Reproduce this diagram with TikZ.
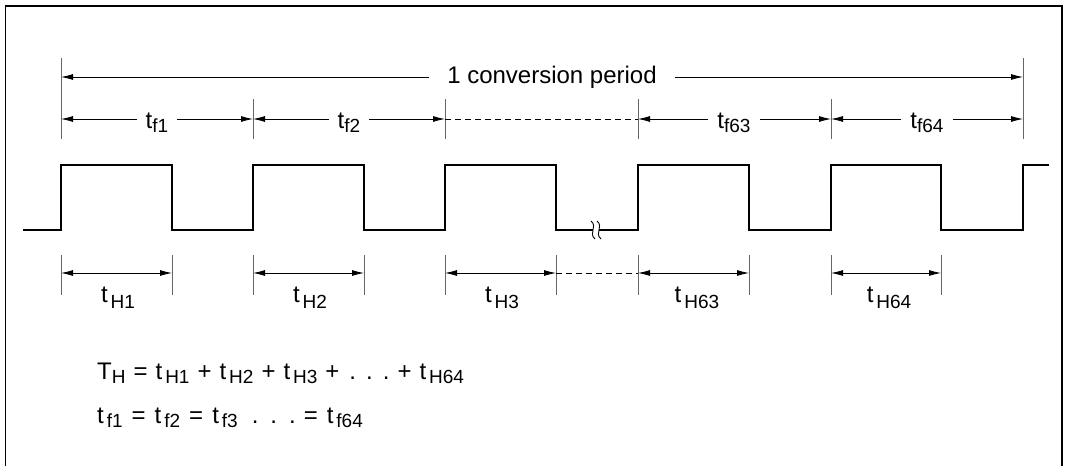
\documentclass[tikz,border=0pt]{standalone}
\usepackage{fontspec}
\setmainfont{Liberation Sans}
\usetikzlibrary{arrows.meta}
\newcommand\mySb[2][-4pt]{\raisebox{#1}{\fontsize{19}{20}\selectfont #2}}
\newcommand\myTf[1]{t\mySb{f#1}}
\newcommand\myTH[1]{t\hspace{3pt}\mySb[-6pt]{H#1}}
\newcommand\myTe[1]{t\hspace{3pt}\mySb{#1}}
\newcommand\myDots[1][10pt]{.\hspace{#1}.\hspace{#1}.}
\begin{document}
\begin{tikzpicture}[x=1pt,y=-1pt,
  font=\fontsize{24}{28}\selectfont,
  ar/.style={line width=0.8pt,-{Latex[length=12pt,width=6pt]}},
  dimline/.style={line width=0.8pt,{Latex[length=12pt,width=6pt]}-{Latex[length=12pt,width=6pt]}},
  dimdash/.style={line width=0.8pt,dash pattern=on 6pt off 4pt},
  tickline/.style={line width=0.8pt,black!60},
  wave/.style={line width=1.3pt,line join=miter},
  frameline/.style={line width=1.8pt},
  flab/.style={inner xsep=9pt,inner ysep=0pt,anchor=base},
  hlab/.style={inner sep=0pt,anchor=base},
  eqn/.style={inner sep=0pt,anchor=base west}]
\useasboundingbox (0,0) rectangle (1065,466);
% frame (open at the bottom)
\draw[frameline] (5.5,466) -- (5.5,6) -- (1062,6) -- (1062,466);

% ---------- top row: tick coordinates ----------
\foreach \n/\x in {0/61,1/253,2/445,3/638,4/831,5/1023}{
  \coordinate (a\n) at (\x,119);
}
\coordinate (cpL) at (61,77);
\coordinate (cpR) at (1023,77);
\draw[tickline] (61,58) -- (61,139);
\draw[tickline] (1023,58) -- (1023,139);
\foreach \x in {253,445,638,831}{\draw[tickline] (\x,99) -- (\x,139);}

% conversion period
\node[inner xsep=18pt,inner ysep=2pt] (cp) at (552,77) {1 conversion period};
\draw[ar] (cp.west) -- (cpL);
\draw[ar] (cp.east) -- (cpR);

% t_f labels
\node[flab] (tf1)  at (157,128) {\myTf{1}};
\node[flab] (tf2)  at (349,128) {\myTf{2}};
\node[flab] (tf63) at (734,128) {\myTf{63}};
\node[flab] (tf64) at (927,128) {\myTf{64}};
\draw[ar] (tf1.west |- a0) -- (a0);
\draw[ar] (tf1.east |- a1) -- (a1);
\draw[ar] (tf2.west |- a1) -- (a1);
\draw[ar] (tf2.east |- a2) -- (a2);
\draw[dimdash] (a2) -- (a3);
\draw[ar] (tf63.west |- a3) -- (a3);
\draw[ar] (tf63.east |- a4) -- (a4);
\draw[ar] (tf64.west |- a4) -- (a4);
\draw[ar] (tf64.east |- a5) -- (a5);

% ---------- waveform ----------
\draw[wave] (23,230) -- (61,230) -- (61,165) -- (172,165) -- (172,230)
  -- (253,230) -- (253,165) -- (364,165) -- (364,230)
  -- (445,230) -- (445,165) -- (556,165) -- (556,230) -- (593,230);
\draw[wave] (599,230) -- (638,230) -- (638,165) -- (749,165) -- (749,230)
  -- (831,230) -- (831,165) -- (941,165) -- (941,230)
  -- (1023,230) -- (1023,165) -- (1049,165);
% break mark
\draw[line width=0.9pt] (591,221) .. controls (598,227) and (588,233) .. (595,239);
\draw[line width=0.9pt] (597,221) .. controls (604,227) and (594,233) .. (601,239);

% ---------- bottom row: t_H ----------
\foreach \n/\x in {0/61,1/172,2/253,3/364,4/445,5/556,6/638,7/749,8/831,9/941}{
  \coordinate (b\n) at (\x,273);
  \draw[tickline] (\x,255) -- (\x,295);
}
\draw[dimline] (b0) -- (b1);
\draw[dimline] (b2) -- (b3);
\draw[dimline] (b4) -- (b5);
\draw[dimdash] (b5) -- (b6);
\draw[dimline] (b6) -- (b7);
\draw[dimline] (b8) -- (b9);
\node[hlab] (th1)  at (118,302) {\myTH{1}};
\node[hlab] (th2)  at (310,302) {\myTH{2}};
\node[hlab] (th3)  at (502,302) {\myTH{3}};
\node[hlab] (th63) at (697,302) {\myTH{63}};
\node[hlab] (th64) at (889,302) {\myTH{64}};

% ---------- formulas ----------
\node[eqn] (eq1) at (97,379) {\spaceskip=8pt\relax T\mySb{H} = \myTe{H1} + \myTe{H2} + \myTe{H3} +\hspace{10pt}\myDots\hspace{8pt}+ \myTe{H64}};
\node[eqn] (eq2) at (97,423) {\spaceskip=9pt\relax \myTe{f1} = \myTe{f2} = \myTe{f3}\hspace{14pt}\myDots[12pt]\hspace{8pt}= \myTe{f64}};
\end{tikzpicture}
\end{document}
